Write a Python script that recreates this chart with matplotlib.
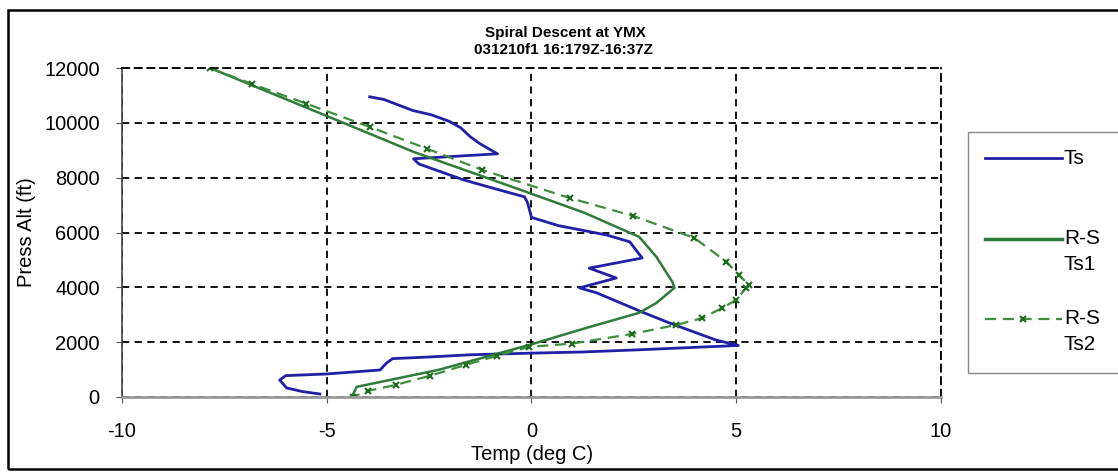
import matplotlib
matplotlib.use('Agg')
import matplotlib.pyplot as plt
from matplotlib.lines import Line2D
from matplotlib.patches import Rectangle

plt.rcParams['font.family'] = ['Liberation Sans', 'DejaVu Sans']
plt.rcParams['axes.unicode_minus'] = False

# Ts (spiral descent)
ts_temp = [-3.95, -3.6, -2.9, -2.44, -2.0, -1.73, -1.5, -1.29, -1.1, -0.83,
           -2.88, -2.75, -1.66, -0.9, -0.17, -0.1, 0.0, 0.66, 1.83, 2.4,
           2.7, 1.41, 2.07, 1.17, 1.59, 2.7, 3.37, 4.5, 5.05, 2.6,
           1.2, 0.0, -1.5, -2.49, -3.39, -3.54, -3.7, -5.0, -6.0, -6.15,
           -5.98, -5.6, -5.17]
ts_alt = [10950, 10850, 10450, 10290, 10050, 9820, 9500, 9270, 9100, 8870,
          8690, 8500, 7920, 7600, 7300, 7100, 6550, 6250, 5910, 5660,
          5070, 4700, 4340, 3980, 3800, 3100, 2700, 2080, 1880, 1720,
          1640, 1600, 1540, 1460, 1400, 1240, 985, 840, 780, 620,
          330, 200, 110]

# R-S Ts1
ts1_temp = [-7.85, -4.95, -2.88, -0.05, 1.29, 2.63, 3.05, 3.44, 3.49, 3.05,
            2.63, 1.34, -0.05, -2.27, -4.27, -4.39]
ts1_alt = [12000, 10220, 8940, 7440, 6720, 5840, 5110, 4200, 3980, 3430,
           3070, 2520, 1900, 990, 370, 0]

# R-S Ts2
ts2_temp = [-7.85, -6.83, -5.5, -3.95, -2.54, -1.2, 0.93, 2.49, 3.98, 4.76,
            5.07, 5.3, 5.24, 5.0, 4.66, 4.17, 3.54, 2.46, 1.0, -0.05,
            -0.85, -1.61, -2.49, -3.32, -4.0, -4.37]
ts2_alt = [12000, 11420, 10700, 9850, 9050, 8280, 7260, 6600, 5800, 4930,
           4450, 4090, 3980, 3540, 3250, 2880, 2630, 2300, 1950, 1830,
           1500, 1170, 770, 440, 220, 0]

W, H = 1118, 472
fig = plt.figure(figsize=(W / 100, H / 100), dpi=100)


def fx(px):
    return px / W


def fy(py):
    return 1 - py / H


ax = fig.add_axes([fx(122), fy(397), fx(941) - fx(122), fy(68) - fy(397)])

blue = '#2020a6'
green = '#2e7b3a'
green2 = '#3d8f3d'

ax.plot(ts_temp, ts_alt, color=blue, lw=2)
ax.plot(ts1_temp, ts1_alt, color=green, lw=1.8)
ax.plot(ts2_temp, ts2_alt, color=green2, lw=1.6, ls=(0, (5, 3)),
        marker='x', ms=5, mew=1.5, mec='#1e6b1e')

ax.set_xlim(-10, 10)
ax.set_ylim(0, 12000)
ax.set_xticks([-10, -5, 0, 5, 10])
ax.set_yticks(range(0, 12001, 2000))
ax.grid(True, color='black', ls=(0, (4, 3)), lw=1.3)
ax.tick_params(axis='both', labelsize=14.5, direction='out', length=4,
               color='#555555')
ax.tick_params(axis='x', pad=14)
ax.tick_params(axis='y', pad=12)

for s in ['top', 'right']:
    ax.spines[s].set_color('black')
    ax.spines[s].set_linestyle((0, (4, 3)))
    ax.spines[s].set_linewidth(1.3)
ax.spines['left'].set_color('#444444')
ax.spines['left'].set_linewidth(1.2)
ax.spines['bottom'].set_color('#999999')
ax.spines['bottom'].set_linewidth(2)

fig.text(fx(532), fy(455), 'Temp (deg C)', ha='center', va='center', fontsize=14.5)
fig.text(fx(27), fy(232), 'Press Alt (ft)', ha='center', va='center',
         rotation=90, fontsize=14.5)
fig.text(fx(565), fy(33), 'Spiral Descent at YMX', ha='center', va='center',
         fontsize=11, fontweight='bold')
fig.text(fx(563), fy(50), '031210f1 16:179Z-16:37Z', ha='center', va='center',
         fontsize=11, fontweight='bold')

# outer chart border
fig.add_artist(Rectangle((fx(8), fy(469)), fx(1140) - fx(8), fy(10) - fy(469),
                         transform=fig.transFigure, fill=False,
                         edgecolor='black', lw=1.8))

# legend
fig.add_artist(Rectangle((fx(968), fy(373)), fx(1140) - fx(968), fy(132) - fy(373),
                         transform=fig.transFigure, facecolor='white',
                         edgecolor='#888888', lw=1))
fig.add_artist(Line2D([fx(985), fx(1062)], [fy(158)] * 2, transform=fig.transFigure,
                      color=blue, lw=2))
fig.add_artist(Line2D([fx(985), fx(1062)], [fy(239)] * 2, transform=fig.transFigure,
                      color=green, lw=2.5))
fig.add_artist(Line2D([fx(985), fx(1062)], [fy(319)] * 2, transform=fig.transFigure,
                      color=green2, lw=1.6, ls=(0, (5, 3))))
fig.add_artist(Line2D([fx(1023)], [fy(319)], transform=fig.transFigure,
                      marker='x', ms=5, mew=1.5, color='#1e6b1e'))
fig.text(fx(1064), fy(158), 'Ts', va='center', fontsize=15)
fig.text(fx(1064), fy(239), 'R-S', va='center', fontsize=15)
fig.text(fx(1064), fy(264), 'Ts1', va='center', fontsize=15)
fig.text(fx(1064), fy(319), 'R-S', va='center', fontsize=15)
fig.text(fx(1064), fy(344), 'Ts2', va='center', fontsize=15)

fig.savefig('out.png', dpi=100)
